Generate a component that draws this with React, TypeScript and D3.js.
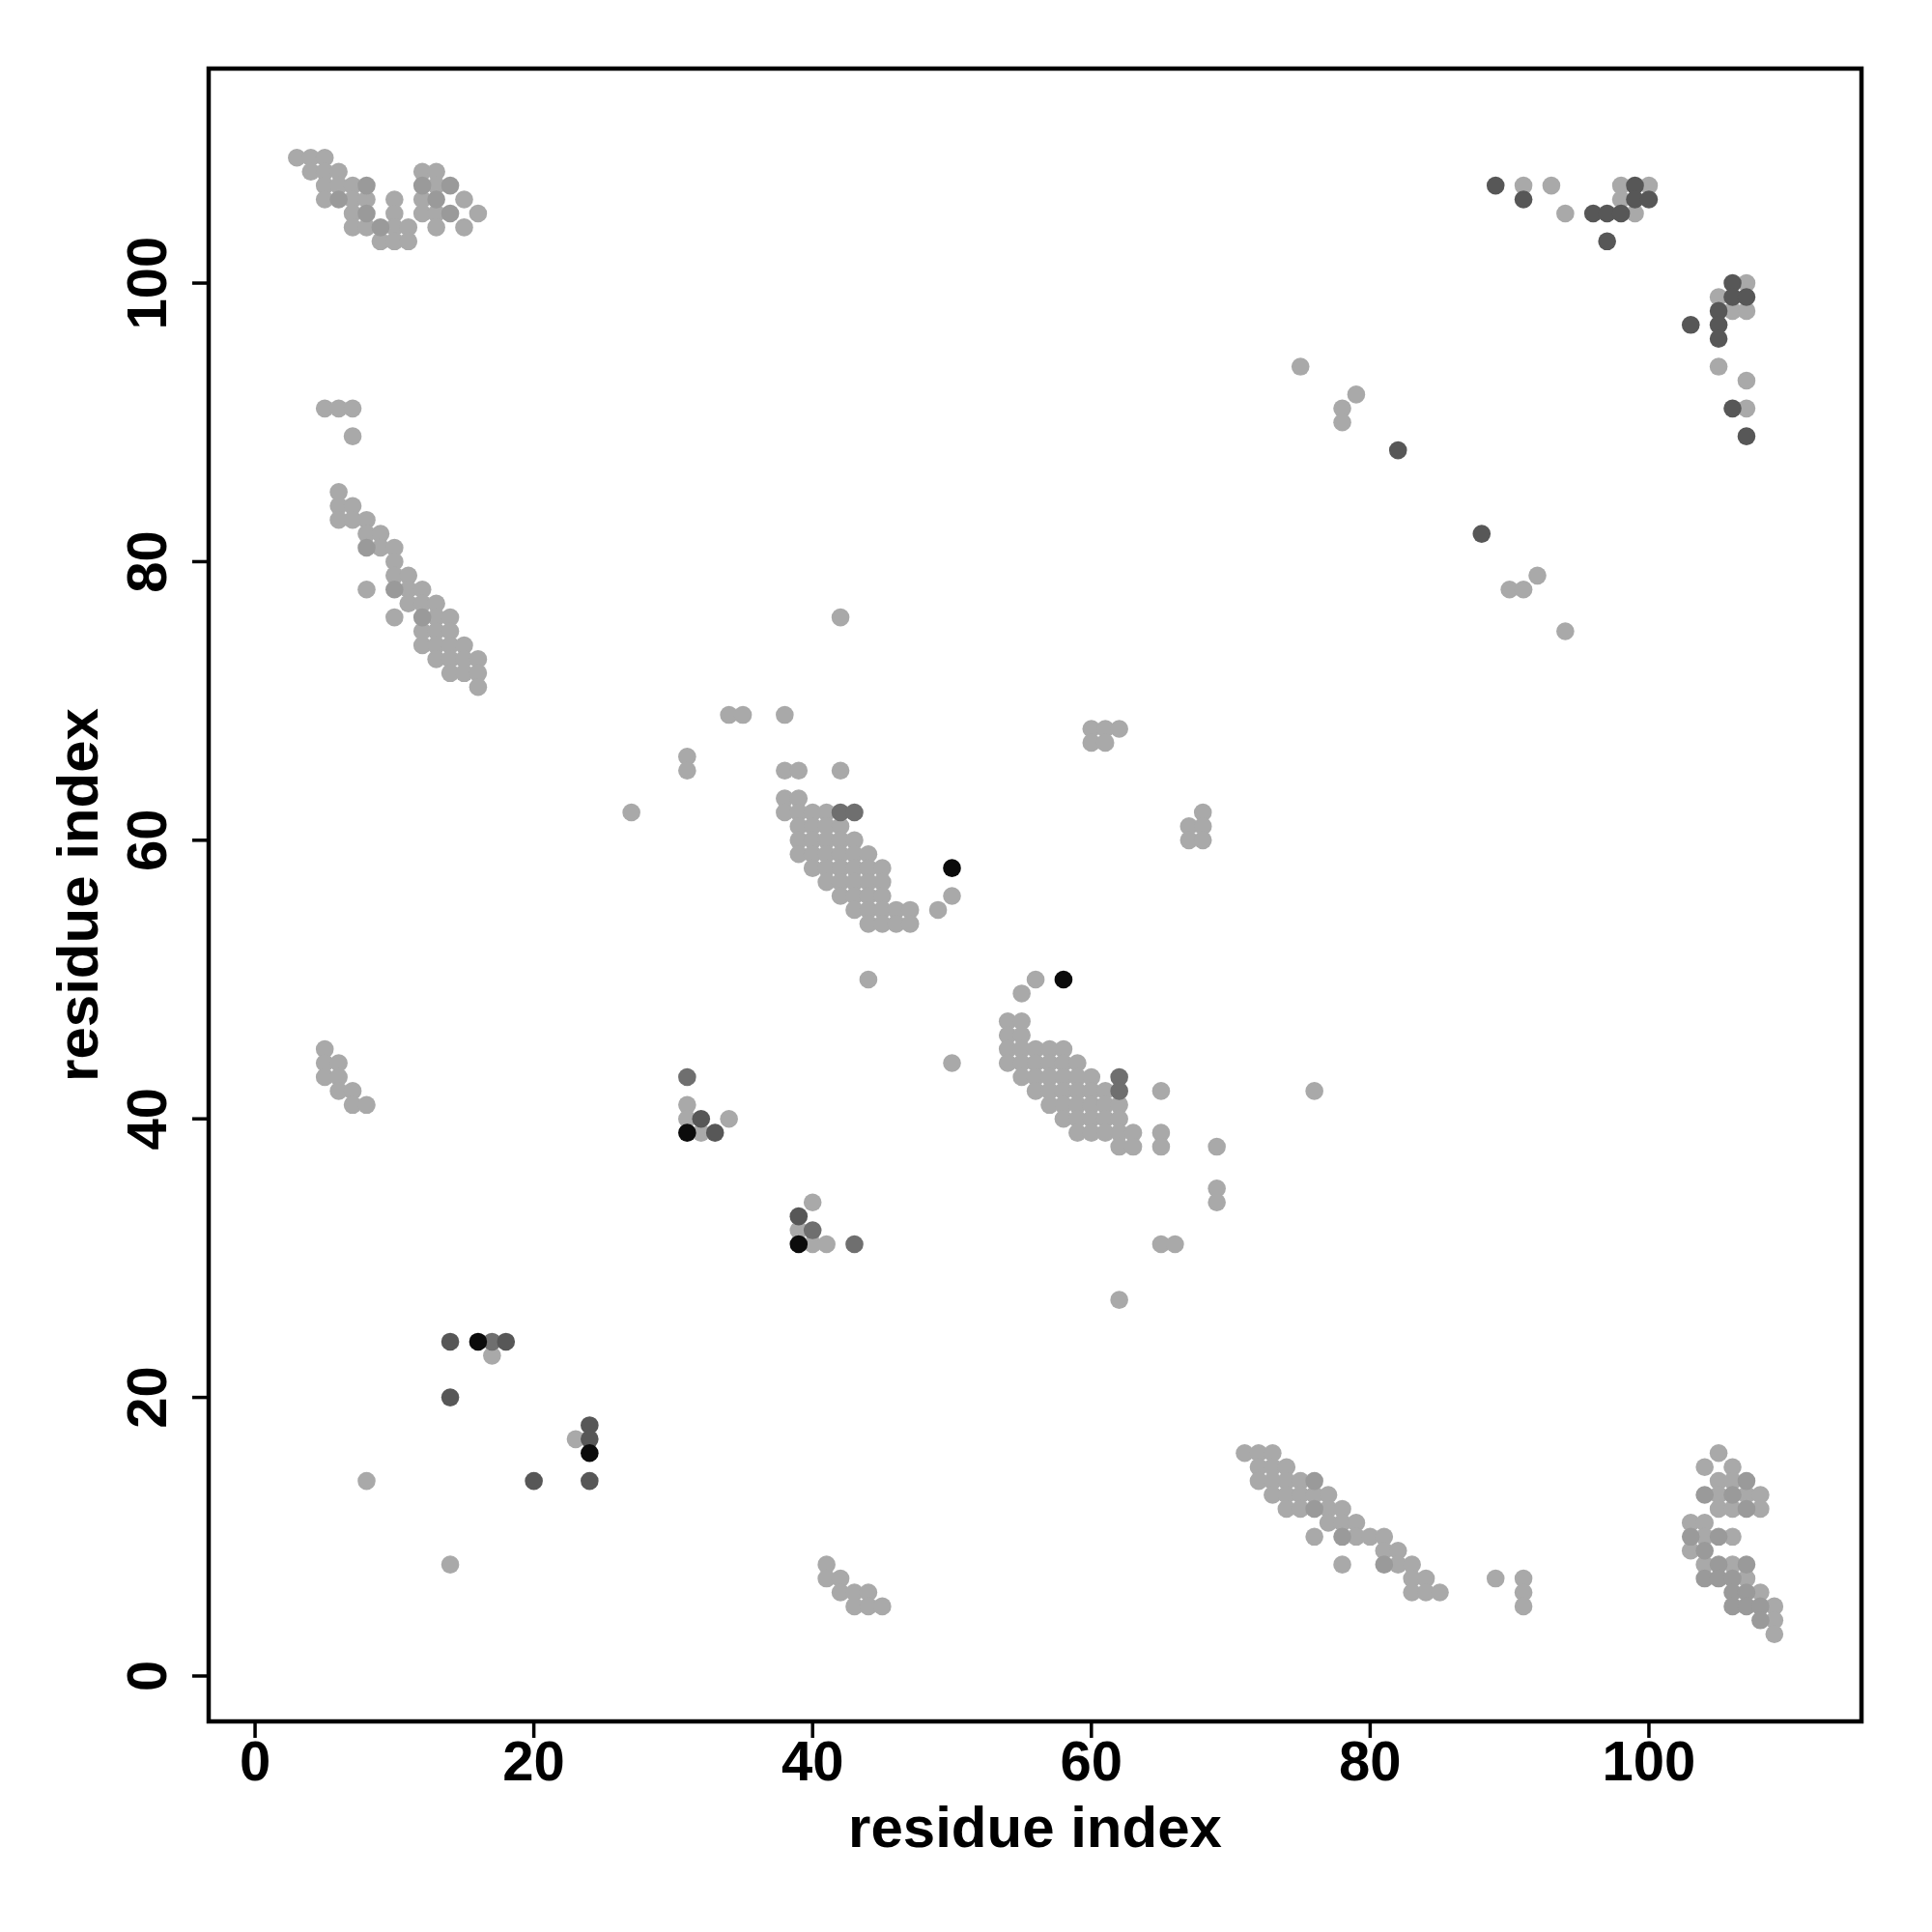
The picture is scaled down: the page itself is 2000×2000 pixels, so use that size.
import React from "react";
import * as d3 from "d3";

// Contact map data: [residue i, residue j] pairs grouped by shade
const contactsLight: [number, number][] = [
  [3,109],[4,109],[5,109],[4,108],[5,108],[6,108],[5,107],[6,107],[7,107],
  [5,106],[7,106],[8,106],[10,106],[7,105],[10,105],[7,104],[8,104],[10,104],[11,104],
  [9,103],[10,103],[11,103],[12,108],[13,108],[13,107],[12,106],[15,106],
  [12,105],[13,105],[16,105],[13,104],[15,104],
  [5,91],[6,91],[7,91],[7,89],[6,85],[6,84],[7,84],[6,83],[7,83],[8,83],[8,82],[9,82],
  [9,81],[10,81],[10,80],[10,79],[11,79],[8,78],[11,78],[12,78],[11,77],[12,77],[13,77],
  [10,76],[13,76],[14,76],[12,75],[13,75],[14,75],[12,74],[13,74],[14,74],[15,74],
  [13,73],[14,73],[15,73],[16,73],[14,72],[15,72],[16,72],[16,71],
  [5,45],[5,44],[6,44],[5,43],[6,43],[6,42],[7,42],[7,41],[8,41],
  [8,14],[14,8],[17,23],[23,17],
  [27,62],[31,66],[31,65],[34,69],[35,69],[38,69],[38,65],[39,65],[42,65],[38,63],[39,63],
  [38,62],[39,62],[40,62],[41,62],[39,61],[40,61],[41,61],[42,61],
  [39,60],[40,60],[41,60],[42,60],[43,60],[39,59],[40,59],[41,59],[42,59],[43,59],[44,59],
  [40,58],[41,58],[42,58],[43,58],[44,58],[45,58],[41,57],[42,57],[43,57],[44,57],[45,57],
  [42,56],[43,56],[44,56],[45,56],[43,55],[44,55],[45,55],[46,55],[47,55],[49,55],
  [44,54],[45,54],[46,54],[47,54],[50,56],[42,76],[44,50],[50,44],
  [31,41],[31,40],[34,40],[32,39],[40,34],[39,32],[40,31],[41,31],
  [41,8],[41,7],[42,7],[42,6],[43,6],[43,5],[44,6],[44,5],[45,5],
  [56,50],[55,49],[54,47],[55,47],[54,46],[55,46],
  [54,45],[55,45],[56,45],[57,45],[58,45],[54,44],[55,44],[56,44],[57,44],[58,44],[59,44],
  [55,43],[56,43],[57,43],[58,43],[59,43],[60,43],[56,42],[57,42],[58,42],[59,42],[60,42],[61,42],
  [57,41],[58,41],[59,41],[60,41],[61,41],[62,41],[58,40],[59,40],[60,40],[61,40],[62,40],
  [59,39],[60,39],[61,39],[62,39],[63,39],[62,38],[63,38],[65,42],[65,39],[65,38],
  [69,38],[69,35],[69,34],[65,31],[66,31],[62,27],[76,42],
  [60,68],[61,68],[62,68],[60,67],[61,67],[67,61],[68,62],[68,61],[67,60],[68,60],
  [71,16],[72,16],[73,16],[72,15],[73,15],[74,15],[72,14],[73,14],[74,14],[75,14],
  [73,13],[74,13],[75,13],[76,13],[77,13],[74,12],[75,12],[77,12],[78,12],
  [77,11],[78,11],[79,11],[76,10],[79,10],[80,10],[81,10],[81,9],[82,9],
  [78,8],[82,8],[83,8],[83,7],[84,7],[89,7],[91,7],[83,6],[84,6],[85,6],[91,6],[91,5],
  [105,16],[104,15],[106,15],[105,14],[106,14],[105,13],[107,13],[108,13],
  [105,12],[106,12],[108,12],[103,11],[104,11],[104,10],[106,10],[103,9],
  [104,8],[106,8],[107,7],[108,6],[109,5],[109,4],[109,3],
  [91,107],[93,107],[98,107],[100,107],[98,106],[94,105],[99,105],
  [107,100],[105,99],[106,98],[107,98],[105,94],[107,93],[107,91],
  [75,94],[78,91],[78,90],[79,92],[92,79],[90,78],[91,78],[94,75]
];

const contactsMidLight: [number, number][] = [
  [8,107],[6,106],[8,105],[9,104],[12,107],[14,107],[13,106],[14,105],
  [8,81],[10,78],[12,76],
  [76,14],[76,12],[78,10],[81,8],
  [107,14],[104,13],[106,13],[107,12],[103,10],[105,10],[104,9],[105,8],[107,8],
  [104,7],[105,7],[106,7],[106,6],[107,6],[106,5],[107,5],[108,5],[108,4]
];

const contactsMid: [number, number][] = [
  [42,62],[43,62],[31,43],[40,32],[43,31],[62,43],[62,42],[17,24]
];

const contactsDark: [number, number][] = [
  [32,40],[33,39],[39,33],
  [14,24],[18,24],[14,20],[24,18],[24,17],[20,14],[24,14],
  [89,107],[99,107],[91,106],[99,106],[100,106],[96,105],[97,105],[98,105],[97,103],
  [106,100],[106,99],[107,99],[105,98],[103,97],[105,97],[105,96],[106,91],[107,89],
  [82,88],[88,82]
];

const contactsBlack: [number, number][] = [
  [50,58],[58,50],[31,39],[39,31],[16,24],[24,16]
];

const tickValues = [0, 20, 40, 60, 80, 100];
const axisTitle = "residue index";

const shadeGroups = [
  { pts: contactsLight, fill: "#a9a9a9" },
  { pts: contactsMidLight, fill: "#9a9a9a" },
  { pts: contactsMid, fill: "#6f6f6f" },
  { pts: contactsDark, fill: "#575757" },
  { pts: contactsBlack, fill: "#0b0b0b" },
];

export default function App() {
  const W = 2000, H = 2000;
  const left = 216, right = 1927, top = 71, bottom = 1782;
  const x = d3.scaleLinear().domain([-3.33, 115.25]).range([left, right]);
  const y = d3.scaleLinear().domain([-3.26, 115.4]).range([bottom, top]);
  const font = "'Liberation Sans', Arial, Helvetica, sans-serif";
  const r = 9.3;

  return (
    <svg width={W} height={H} style={{ position: "absolute", left: 0, top: 0, background: "#fff" }}
      xmlns="http://www.w3.org/2000/svg">
      <rect x={0} y={0} width={W} height={H} fill="#fff" />
      {shadeGroups.map((g, gi) => (
        <g key={gi} fill={g.fill}>
          {g.pts.map(([a, b], i) => (
            <circle key={i} cx={x(a)} cy={y(b)} r={r} />
          ))}
        </g>
      ))}
      <rect x={left} y={top} width={right - left} height={bottom - top}
        fill="none" stroke="#000" strokeWidth={4.5} />
      {tickValues.map((t) => (
        <g key={"x" + t}>
          <line x1={x(t)} x2={x(t)} y1={bottom} y2={bottom + 17} stroke="#000" strokeWidth={3.5} />
          <text x={x(t)} y={1843} textAnchor="middle" fontFamily={font} fontWeight="bold" fontSize={58}>{t}</text>
        </g>
      ))}
      {tickValues.map((t) => (
        <g key={"y" + t}>
          <line x1={left - 17} x2={left} y1={y(t)} y2={y(t)} stroke="#000" strokeWidth={3.5} />
          <text transform={`translate(172,${y(t)}) rotate(-90)`} textAnchor="middle"
            fontFamily={font} fontWeight="bold" fontSize={58}>{t}</text>
        </g>
      ))}
      <text x={(left + right) / 2} y={1912} textAnchor="middle" fontFamily={font} fontWeight="bold" fontSize={60}>{axisTitle}</text>
      <text transform={`translate(101,${(top + bottom) / 2}) rotate(-90)`} textAnchor="middle"
        fontFamily={font} fontWeight="bold" fontSize={60}>{axisTitle}</text>
    </svg>
  );
}
